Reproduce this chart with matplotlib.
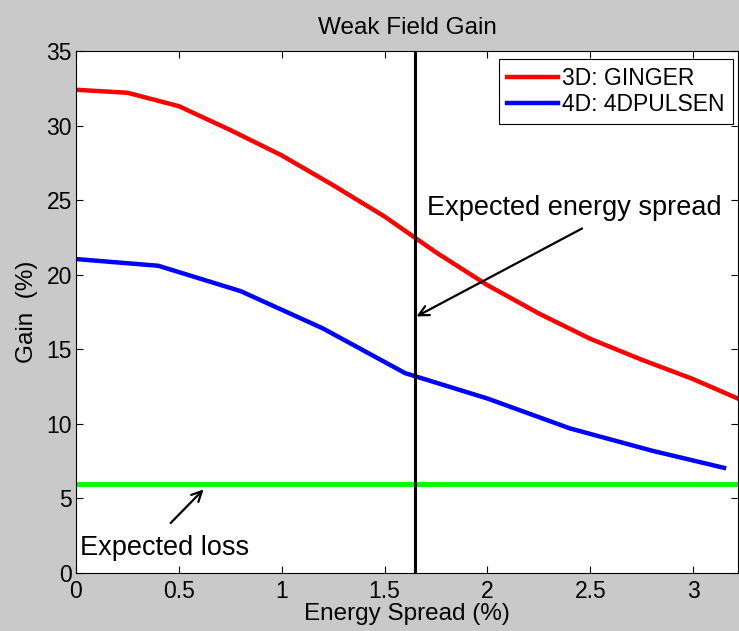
import matplotlib.pyplot as plt

plt.rcParams['font.family'] = ['Liberation Sans', 'DejaVu Sans']

# 3D: GINGER
ginger_x = [0, 0.25, 0.5, 0.75, 1.0, 1.25, 1.5, 1.75, 2.0, 2.25, 2.5, 2.75, 3.0, 3.25]
ginger_y = [32.4, 32.2, 31.3, 29.7, 28.0, 26.0, 23.9, 21.5, 19.3, 17.4, 15.7, 14.3, 13.0, 11.5]

# 4D: 4DPULSEN
pulsen_x = [0, 0.4, 0.8, 1.2, 1.6, 2.0, 2.4, 2.8, 3.15]
pulsen_y = [21.05, 20.6, 18.9, 16.4, 13.4, 11.7, 9.7, 8.2, 7.05]

expected_loss = 6.0
expected_spread = 1.65

fig = plt.figure(figsize=(7.39, 6.31), dpi=100, facecolor='#c9c9c9')
ax = fig.add_axes([76 / 739, 1 - 573 / 631, 662 / 739, 522 / 631])

ax.plot(ginger_x, ginger_y, color='#ff0000', lw=3.2, label='3D: GINGER')
ax.plot(pulsen_x, pulsen_y, color='#0000ff', lw=3.2, label='4D: 4DPULSEN')
ax.axhline(expected_loss, color='#00ff00', lw=3.5)
ax.axvline(expected_spread, color='black', lw=2.2)

# annotations
arrow = dict(arrowstyle='->', color='black', lw=1.6, mutation_scale=18,
             shrinkA=0, shrinkB=0)
ax.annotate('', xy=(1.655, 17.2), xytext=(2.46, 23.1), arrowprops=arrow)
ax.text(1.705, 24.5, 'Expected energy spread', fontsize=19.5, ha='left', va='center')
ax.annotate('', xy=(0.62, 5.6), xytext=(0.46, 3.35), arrowprops=arrow)
ax.text(0.02, 1.7, 'Expected loss', fontsize=19.5, ha='left', va='center')

ax.set_xlim(0, 3.218)
ax.set_ylim(0, 35)
ax.set_xticks([0, 0.5, 1, 1.5, 2, 2.5, 3])
ax.set_xticklabels(['0', '0.5', '1', '1.5', '2', '2.5', '3'])
ax.set_yticks(range(0, 36, 5))
ax.tick_params(direction='in', top=True, right=True, labelsize=16.5, length=5)
ax.tick_params(axis='x', pad=5)
ax.tick_params(axis='y', pad=3)

ax.set_title('Weak Field Gain', fontsize=17.5, pad=12)
ax.set_xlabel('Energy Spread (%)', fontsize=17.5, labelpad=0)
ax.set_ylabel('Gain  (%)', fontsize=17.5, labelpad=6)

leg = ax.legend(loc='upper right', bbox_to_anchor=(0.992, 0.985), fontsize=16.5,
                fancybox=False, edgecolor='black', framealpha=1,
                handlelength=2.2, handletextpad=0.2, borderpad=0.35,
                labelspacing=0.15, borderaxespad=0)
leg.get_frame().set_linewidth(0.8)

fig.savefig('out.png', dpi=100, facecolor=fig.get_facecolor())
